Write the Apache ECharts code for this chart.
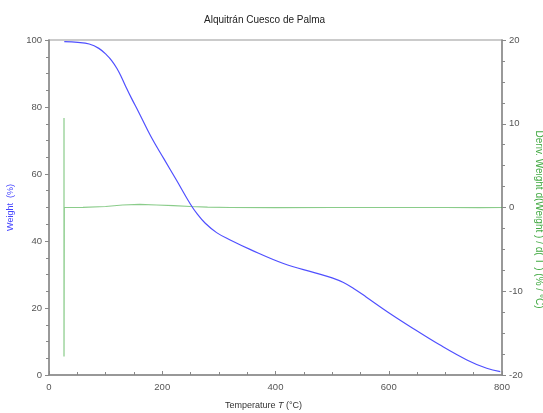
<!DOCTYPE html>
<html>
<head>
<meta charset="utf-8">
<script src="https://cdn.jsdelivr.net/npm/echarts@6/dist/echarts.min.js"></script>
<style>
  html, body { margin: 0; padding: 0; background: #fff; }
  #chart { width: 543px; height: 413px; }
</style>
</head>
<body>
<div id="chart"></div>
<script>
  // weight curve, [temperature °C, weight %]
  var weightData = [
    [27, 99.5], [51, 99.3], [71, 98.8], [88, 97.5], [102, 95.5], [111, 93.8], [120, 91.5],
    [128, 88.9], [137, 85.6], [146, 82.5], [158, 78.6], [180, 71.2], [203, 64.5],
    [225, 58.2], [249, 51.2], [262, 48.0], [276, 45.3], [296, 42.5], [320, 40.3],
    [355, 37.5], [414, 33.3], [470, 30.5], [500, 29.0], [520, 27.6], [540, 25.6],
    [560, 23.3], [600, 18.6], [643, 13.9], [690, 9.0], [738, 4.5], [773, 2.0], [797, 1.0]
  ];
  // derivative curve, [temperature °C, %/°C]
  var derivData = [
    [26.5, 10.7], [26.5, -17.8], [27, 0], [60, 0.02], [100, 0.12], [130, 0.3],
    [160, 0.38], [190, 0.3], [220, 0.22], [250, 0.12], [280, 0.04], [320, 0],
    [400, -0.02], [500, 0], [600, 0], [700, 0], [760, -0.02], [800, 0]
  ];
  var xTicks = [0, 800, 200];
  var leftTicks = [0, 100, 20];
  var rightTicks = [-20, 20, 10];

  var chart = echarts.init(document.getElementById('chart'));
  var axisGray = '#888';
  var labelGray = '#555';

  var option = {
    animation: false,
    title: {
      text: 'Alquitrán Cuesco de Palma',
      left: 199,
      top: 10,
      textStyle: { fontSize: 10, fontWeight: 'normal', color: '#222', fontFamily: 'Liberation Sans' }
    },
    grid: {
      left: 49, right: 41, top: 40, bottom: 38,
      outerBoundsMode: 'none',
      show: true, borderColor: '#bbb', borderWidth: 1.5
    },
    xAxis: {
      type: 'value',
      min: xTicks[0], max: xTicks[1], interval: xTicks[2],
      name: '{a|Temperature }{i|T}{a| (°C)}',
      nameLocation: 'middle',
      nameGap: 26,
      nameTextStyle: {
        padding: [0, 24, 0, 0],
        rich: {
          a: { fontSize: 9, color: '#333', fontFamily: 'Liberation Sans' },
          i: { fontSize: 9, color: '#333', fontStyle: 'italic', fontFamily: 'Liberation Sans' }
        }
      },
      axisLine: { lineStyle: { color: axisGray, width: 1.5 } },
      axisTick: { inside: true, length: 4, lineStyle: { color: axisGray } },
      minorTick: { show: true, splitNumber: 4, length: 3, lineStyle: { color: axisGray } },
      axisLabel: { color: labelGray, fontSize: 9.5, margin: 7, fontFamily: 'Liberation Sans' },
      splitLine: { show: false }
    },
    yAxis: [
      {
        type: 'value',
        position: 'left',
        min: leftTicks[0], max: leftTicks[1], interval: leftTicks[2],
        name: 'Weight  (%)',
        nameLocation: 'middle',
        nameGap: 34,
        nameTextStyle: { color: '#4444ff', fontSize: 9, fontFamily: 'Liberation Sans' },
        axisLine: { show: true, lineStyle: { color: axisGray, width: 1.5 } },
        axisTick: { show: true, length: 4, lineStyle: { color: axisGray } },
        minorTick: { show: true, splitNumber: 4, length: 3, lineStyle: { color: axisGray } },
        axisLabel: { color: labelGray, fontSize: 9.5, margin: 7, fontFamily: 'Liberation Sans' },
        splitLine: { show: false }
      },
      {
        type: 'value',
        position: 'right',
        min: rightTicks[0], max: rightTicks[1], interval: rightTicks[2],
        name: 'Deriv. Weight d(Weight ) / d( T ) (% / °C)',
        nameLocation: 'middle',
        nameGap: 31,
        nameRotate: -90,
        nameTextStyle: { color: '#44aa44', fontSize: 10, fontFamily: 'Liberation Sans', padding: [0, 0, 0, 24] },
        axisLine: { show: true, lineStyle: { color: axisGray, width: 1.5 } },
        axisTick: { show: true, length: 4, lineStyle: { color: axisGray } },
        minorTick: { show: true, splitNumber: 4, length: 3, lineStyle: { color: axisGray } },
        axisLabel: { color: labelGray, fontSize: 9.5, margin: 7, fontFamily: 'Liberation Sans' },
        splitLine: { show: false }
      }
    ],
    series: [
      {
        name: 'Deriv. Weight',
        type: 'line',
        yAxisIndex: 1,
        data: derivData,
        showSymbol: false,
        lineStyle: { color: 'rgba(60,170,60,0.6)', width: 1.2 },
        z: 2
      },
      {
        name: 'Weight',
        type: 'line',
        yAxisIndex: 0,
        data: weightData,
        smooth: 0.4,
        showSymbol: false,
        lineStyle: { color: '#5050ff', width: 1.2 },
        z: 3
      }
    ]
  };

  chart.setOption(option);
</script>
</body>
</html>
